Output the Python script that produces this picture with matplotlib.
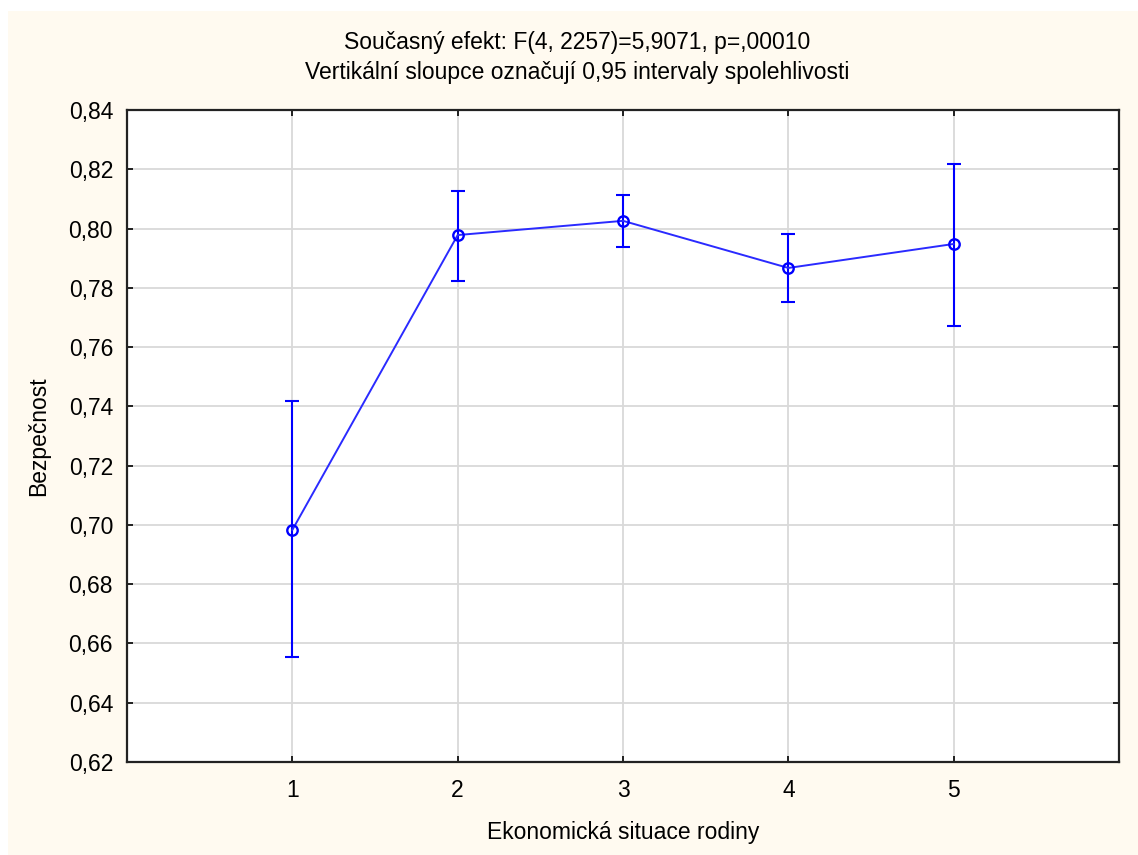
import numpy as np
import matplotlib

matplotlib.use("Agg")
import matplotlib.pyplot as plt
from matplotlib.patches import Rectangle
from matplotlib.ticker import FuncFormatter

plt.rcParams["font.family"] = ["Liberation Sans", "DejaVu Sans"]

# data
groups = [1, 2, 3, 4, 5]
means = [0.6983, 0.7978, 0.8026, 0.7867, 0.7948]
upper = [0.7418, 0.8127, 0.8113, 0.7982, 0.8218]
lower = [0.6554, 0.7823, 0.7938, 0.7752, 0.7671]

title_lines = ["Současný efekt: F(4, 2257)=5,9071, p=,00010",
               "Vertikální sloupce označují 0,95 intervaly spolehlivosti"]
xlabel = "Ekonomická situace rodiny"
ylabel = "Bezpečnost"

FS = 16.5
W, H = 1138, 855
fig = plt.figure(figsize=(W / 100, H / 100), dpi=100)
fig.patch.set_facecolor("white")
fig.patches.append(Rectangle((8 / W, 0), 1, 1 - 11 / H, transform=fig.transFigure,
                             facecolor="#fffaf0", edgecolor="none", zorder=-10))

ax = fig.add_axes([127 / W, 1 - 762 / H, (1119 - 127) / W, (762 - 110) / H])
ax.set_facecolor("white")

m = np.array(means)
yerr = [m - np.array(lower), np.array(upper) - m]
ax.errorbar(groups, means, yerr=yerr, fmt="none", ecolor="#0000ff",
            elinewidth=1.5, capsize=5.3, capthick=1.5, zorder=3)
ax.plot(groups, means, color="#2a2aff", lw=1.4, marker="o", ms=7.5,
        mfc="none", mec="#0000ff", mew=1.7, zorder=4)

ax.set_xlim(0, 6)
ax.set_ylim(0.62, 0.84)
ax.set_xticks(groups)
ax.set_yticks(np.arange(0.62, 0.8401, 0.02))
ax.yaxis.set_major_formatter(FuncFormatter(lambda v, p: f"{v:.2f}".replace(".", ",")))
ax.grid(True, color="#d9d9d9", lw=1.3)
ax.set_axisbelow(True)
ax.tick_params(direction="in", length=4, width=1.2, labelsize=FS, colors="black",
               top=True, right=True)
ax.tick_params(axis="x", pad=12)
ax.tick_params(axis="y", pad=10)
for s in ax.spines.values():
    s.set_linewidth(1.6)
    s.set_color("#222222")

# title is centred on the figure, not on the axes
for txt, yc in zip(title_lines, [42, 73]):
    fig.text(577 / W, 1 - yc / H, txt, fontsize=FS, ha="center", va="center")
ax.set_xlabel(xlabel, fontsize=FS, labelpad=14)
ax.set_ylabel(ylabel, fontsize=FS, labelpad=13)

fig.savefig("out.png", dpi=100, facecolor=fig.get_facecolor())
